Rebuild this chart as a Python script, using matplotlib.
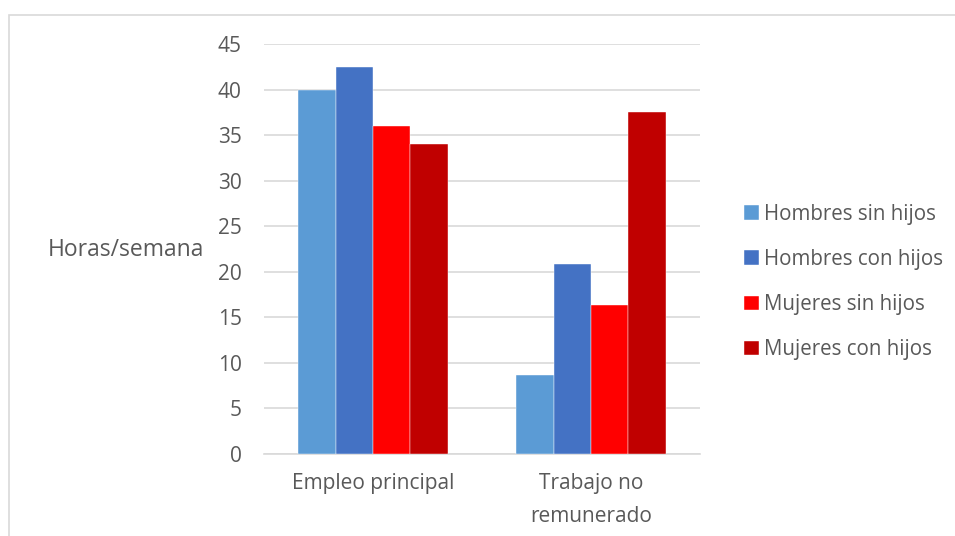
import numpy as np
import matplotlib.pyplot as plt
from matplotlib.patches import Rectangle

# datos
categorias = ['Empleo principal', 'Trabajo no\nremunerado']
series = ['Hombres sin hijos', 'Hombres con hijos', 'Mujeres sin hijos', 'Mujeres con hijos']
valores = {
    'Hombres sin hijos': [40.0, 8.7],
    'Hombres con hijos': [42.5, 20.8],
    'Mujeres sin hijos': [36.0, 16.4],
    'Mujeres con hijos': [34.0, 37.5],
}
colores = ['#5B9BD5', '#4472C4', '#FF0000', '#C00000']

plt.rcParams['font.family'] = ['Open Sans', 'DejaVu Sans']
gris = '#595959'

fig = plt.figure(figsize=(9.55, 5.36), dpi=100)
# marco del grafico
fig.patches.append(Rectangle((9/955, -0.1), 1.1, 1 - 15/536 + 0.1, transform=fig.transFigure,
                             fill=False, edgecolor='#D9D9D9', linewidth=1.2))
ax = fig.add_axes([264/955, 1 - 454/536, 436/955, 410/536])

x = np.arange(len(categorias))
ancho = 0.172
for i, (s, c) in enumerate(zip(series, colores)):
    ax.bar(x + (i - 1.5) * ancho, valores[s], ancho, color=c, label=s, zorder=3,
           edgecolor='white', linewidth=0.3)

ax.set_xlim(-0.5, 1.5)
ax.set_ylim(0, 45)
ax.set_yticks(range(0, 46, 5))
ax.set_xticks(x)
ax.set_xticklabels(categorias, fontsize=15, color=gris, linespacing=1.75)
ax.tick_params(axis='y', labelsize=15, colors=gris, length=0, pad=16)
ax.tick_params(axis='x', length=0, pad=14, colors=gris)
ax.grid(axis='y', color='#D9D9D9', linewidth=1.2, zorder=0)
for sp in ['top', 'right', 'left']:
    ax.spines[sp].set_visible(False)
ax.spines['bottom'].set_color('#D9D9D9')
ax.spines['bottom'].set_linewidth(1.2)

fig.text(48/955, 1 - 250/536, 'Horas/semana', fontsize=16.5, color=gris, va='center', ha='left')

leg = ax.legend(loc='center left', bbox_to_anchor=(734/955, 1 - 282/536), bbox_transform=fig.transFigure,
                frameon=False, fontsize=14.8, handlelength=0.7, handleheight=0.7,
                handletextpad=0.25, labelspacing=1.18, borderpad=0)
for t in leg.get_texts():
    t.set_color(gris)

fig.savefig('out.png', dpi=100)
